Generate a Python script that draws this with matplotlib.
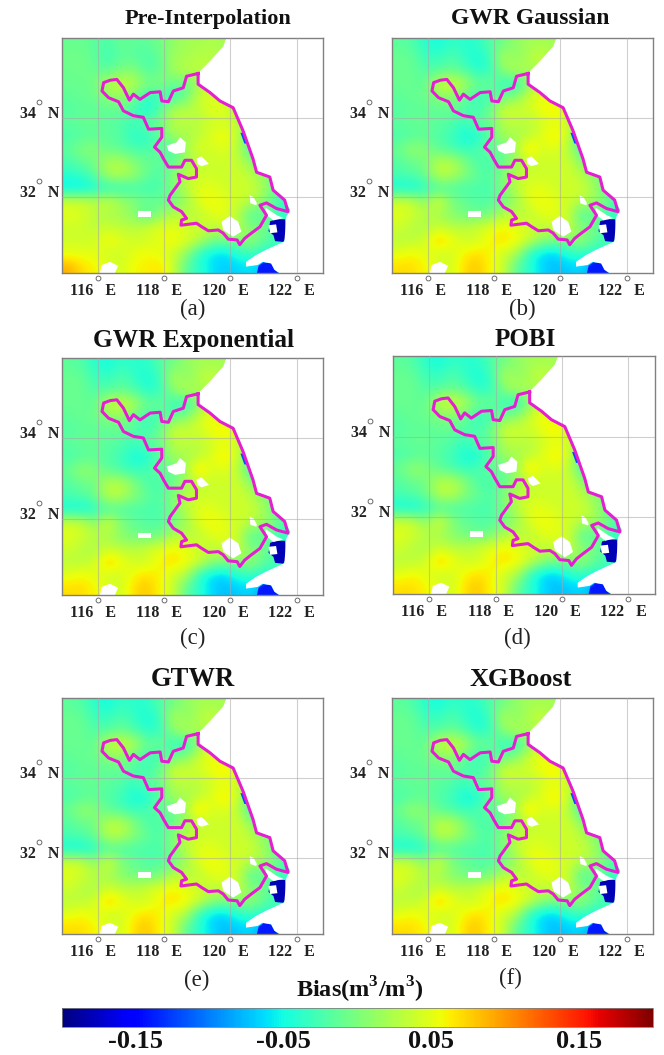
import matplotlib
matplotlib.use("Agg")
import matplotlib.pyplot as plt
from matplotlib.cm import ScalarMappable
from matplotlib.colors import Normalize
from matplotlib.transforms import ScaledTranslation
import numpy as np

plt.rcParams['font.family'] = ['Liberation Serif', 'DejaVu Serif']
plt.rcParams['font.weight'] = 'bold'
plt.rcParams['mathtext.fontset'] = 'custom'
plt.rcParams['mathtext.rm'] = 'Liberation Serif:bold'
plt.rcParams['mathtext.bf'] = 'Liberation Serif:bold'
plt.rcParams['mathtext.fallback'] = 'stix'

W, H = 664, 1055
lon_min, lon_max = 114.9, 122.8
lat_min, lat_max = 30.1, 36.0

lon_ticks = [116, 118, 120, 122]
lat_ticks = [32, 34]
cbar_ticks = [-0.15, -0.05, 0.05, 0.15]
cbar_labels = ['-0.15', '-0.05', '0.05', '0.15']

titles = ['Pre-Interpolation', 'GWR Gaussian', 'GWR Exponential', 'POBI', 'GTWR', 'XGBoost']
letters = ['(a)', '(b)', '(c)', '(d)', '(e)', '(f)']

# bias, coarse cells, north to south
bias_pre = [
    [-.010, -.010, -.015, -.025, -.010, -.015, -.015, -.005, .010, .020, .020, .025, .020, .010, .000, .000, .000, .000, .000, .000],
    [-.005, -.005, -.015, -.030, -.015, -.015, -.025, -.015, .020, .020, .030, .030, .020, .000, .000, .000, .000, .000, .000, .000],
    [-.010, -.005, -.010, -.015, .000, .005, -.020, -.015, .020, .030, .030, .025, .020, .000, .000, .000, .000, .000, .000, .000],
    [-.010, -.010, -.005, .030, .040, .030, .000, .005, -.010, -.015, .020, .030, .020, .000, .000, .000, .000, .000, .000, .000],
    [-.015, -.010, -.010, .010, .010, .000, -.040, -.030, -.035, -.010, .040, .050, .030, .015, .000, .000, .000, .000, .000, .000],
    [-.020, -.015, -.015, -.015, -.010, -.030, -.050, -.020, .030, .030, .030, .050, .050, .030, .000, .000, .000, .000, .000, .000],
    [-.015, -.010, -.010, -.015, -.020, -.030, -.010, -.010, .030, .030, .030, .040, .040, .035, -.010, .000, .000, .000, .000, .000],
    [-.025, -.020, -.015, -.015, -.020, -.040, -.040, -.015, .020, .020, .030, .050, .060, .035, -.030, -.050, .000, .000, .000, .000],
    [-.015, .005, .005, -.010, -.015, -.025, -.025, -.010, -.030, .020, .050, .040, .050, .030, -.030, -.040, .000, .000, .000, .000],
    [-.025, -.015, -.005, .025, .025, .005, -.010, -.015, -.015, .015, .030, .040, .040, .035, .010, -.020, .000, .000, .000, .000],
    [-.040, -.035, -.015, .020, .030, .015, -.010, -.025, .005, .030, .040, .040, .040, .040, .030, .010, -.010, .000, .000, .000],
    [-.060, -.060, -.050, -.040, -.040, -.030, -.030, -.025, .000, .030, .050, .050, .040, .040, .040, .020, -.020, -.030, .000, .000],
    [.040, .040, .030, .040, .020, .005, -.005, -.010, -.010, .015, .050, .060, .050, .040, .030, .005, -.020, -.050, -.060, .000],
    [.050, .045, .030, .020, .020, .005, -.025, .005, .030, .030, .030, .050, .050, .030, -.025, -.010, -.030, -.040, -.040, .000],
    [.040, .040, .030, .040, .030, .030, .040, .050, .050, .040, .040, .030, .040, .030, .000, .000, -.030, -.040, -.040, .000],
    [.040, .040, .040, .060, .050, .040, .040, .050, .060, .050, .030, .000, -.005, .000, .015, -.015, -.030, -.030, -.030, .000],
    [.050, .050, .050, .040, .040, .050, .060, .050, .040, .010, -.040, -.060, -.065, -.040, -.030, -.045, -.040, .000, .000, .000],
    [.090, .070, .060, .050, .040, .060, .060, .070, .040, -.015, -.040, -.060, -.070, -.065, -.060, -.080, -.100, .000, .000, .000],
]

bias_gwr = [
    [-.015, -.020, -.040, -.050, -.035, -.040, -.040, -.020, -.005, .010, .020, .020, .020, .010, .000, .000, .000, .000, .000, .000],
    [-.010, -.010, -.030, -.035, -.020, -.035, -.050, -.035, .030, .005, .025, .040, .020, .000, .000, .000, .000, .000, .000, .000],
    [-.010, -.010, -.020, -.020, -.010, -.020, -.040, -.035, .005, .030, .020, .020, .020, .000, .000, .000, .000, .000, .000, .000],
    [-.010, -.010, -.015, .040, .045, .030, -.010, -.005, -.035, -.045, .005, .040, .020, .000, .000, .000, .000, .000, .000, .000],
    [-.015, -.010, -.010, .005, .005, -.010, -.035, -.025, -.010, .005, .040, .060, .040, .030, .000, .000, .000, .000, .000, .000],
    [-.020, -.015, -.015, -.015, -.010, -.020, -.030, -.010, .045, .040, .040, .055, .070, .040, .000, .000, .000, .000, .000, .000],
    [-.015, -.010, -.010, -.015, -.020, -.035, -.010, -.015, .030, .030, .030, .040, .050, .040, .000, .000, .000, .000, .000, .000],
    [-.025, -.020, -.015, -.020, -.030, -.050, -.050, -.015, .020, .020, .030, .050, .070, .040, -.030, -.060, .000, .000, .000, .000],
    [-.010, .015, .005, -.015, -.025, -.035, -.025, -.010, -.015, .020, .080, .040, .050, .030, -.030, -.080, .000, .000, .000, .000],
    [-.020, -.010, -.005, .030, .030, .005, -.025, -.025, -.010, .015, .030, .040, .040, .040, .010, -.020, .000, .000, .000, .000],
    [-.025, -.020, -.010, .030, .030, .005, -.010, -.025, .005, .030, .040, .040, .040, .040, .030, .005, -.010, .000, .000, .000],
    [-.050, -.055, -.040, -.025, -.025, -.025, -.025, -.025, .000, .030, .050, .050, .040, .040, .040, .020, -.020, -.030, .000, .000],
    [.040, .040, .005, .050, .005, -.010, -.020, -.020, -.010, .015, .050, .060, .050, .040, .030, .015, .000, -.040, -.050, .000],
    [.050, .040, .030, .020, .005, -.005, -.010, -.005, .030, .030, .030, .050, .050, .040, -.025, -.010, -.030, -.040, -.040, .000],
    [.040, .030, .020, .040, .030, .030, .040, .050, .060, .050, .040, .030, .040, .040, .000, .000, -.030, -.040, -.040, .000],
    [.030, .030, .040, .080, .060, .040, .040, .060, .070, .060, .040, .010, .000, .000, .015, -.015, -.030, -.030, -.030, .000],
    [.050, .060, .050, .040, .040, .060, .070, .060, .040, .025, -.040, -.065, -.070, -.040, -.035, -.045, -.040, .000, .000, .000],
    [.070, .070, .060, .050, .040, .070, .080, .060, .040, -.015, -.040, -.065, -.075, -.070, -.065, -.090, -.120, .000, .000, .000],
]

# province outline
border_lon = [119.02, 118.67, 118.57, 118.27, 118.12, 117.92, 117.87, 117.57, 117.26, 117.06, 116.94, 116.76, 116.56,
              116.36, 116.16, 116.11, 116.31, 116.61, 116.76, 117.06, 117.36, 117.52, 117.92, 117.92, 117.70, 117.87,
              117.97, 118.12, 118.52, 118.62, 118.82, 118.97, 118.97, 118.72, 118.42, 118.47, 118.17, 118.12, 118.27, 118.52,
              118.67, 118.52, 118.50, 118.97, 119.13, 119.33, 119.63, 119.78, 119.93, 120.20, 120.28, 120.43, 120.63, 120.89,
              121.09, 120.89, 121.09, 121.39, 121.74, 121.64, 121.29, 121.19, 120.79, 120.68, 120.38, 120.08, 119.68, 119.38,
              119.02, 119.02]
border_lat = [35.11, 35.04, 34.75, 34.67, 34.40, 34.42, 34.65, 34.63, 34.46, 34.59, 34.44, 34.75, 34.96,
              34.94, 34.88, 34.67, 34.50, 34.40, 34.17, 34.05, 34.01, 33.71, 33.73, 33.51, 33.26, 33.13,
              32.97, 32.76, 32.76, 32.93, 32.93, 32.72, 32.51, 32.47, 32.58, 32.39, 32.05, 31.93, 31.76, 31.64,
              31.47, 31.43, 31.30, 31.35, 31.26, 31.16, 31.18, 31.10, 30.95, 30.93, 30.81, 30.97, 31.10, 31.26,
              31.55, 31.80, 31.86, 31.72, 31.64, 31.93, 32.18, 32.51, 32.63, 32.97, 33.67, 34.25, 34.42, 34.63,
              34.84, 35.11]

# sea, no retrievals
sea_lon = [119.88, 119.78, 119.38, 119.08, 119.02, 119.38, 119.68, 120.08, 120.38, 120.68, 120.79, 121.19, 121.29,
           121.64, 121.81, 121.69, 121.63, 121.07, 120.77, 120.47, 120.47, 120.82, 120.97, 121.23, 121.33, 121.48, 122.8, 122.8]
sea_lat = [36.0, 35.79, 35.42, 35.17, 34.84, 34.63, 34.42, 34.25, 33.67, 32.97, 32.63, 32.51, 32.18,
           31.93, 31.68, 31.51, 30.89, 30.68, 30.55, 30.38, 30.26, 30.30, 30.38, 30.34, 30.18, 30.10, 30.1, 36.0]

# lakes and other gaps
gaps_lon = [
    [118.07, 118.37, 118.47, 118.65, 118.62, 118.32, 118.12],
    [118.97, 119.12, 119.35, 119.12, 119.00],
    [119.73, 119.98, 120.23, 120.33, 120.08, 119.78],
    [117.21, 117.60, 117.60, 117.21],
    [120.58, 120.70, 120.80, 120.78, 120.60],
    [121.05, 121.40, 121.60, 121.30, 121.10],
    [116.10, 116.35, 116.60, 116.50, 116.05],
]
gaps_lat = [
    [33.30, 33.38, 33.51, 33.38, 33.13, 33.09, 33.17],
    [32.97, 33.03, 32.84, 32.78, 32.84],
    [31.39, 31.53, 31.39, 31.14, 31.01, 31.18],
    [31.65, 31.65, 31.51, 31.51],
    [32.05, 32.00, 31.85, 31.80, 31.85],
    [31.75, 31.55, 31.48, 31.42, 31.55],
    [30.30, 30.38, 30.28, 30.10, 30.10],
]

# strongly dry spots near the estuary, the south coast and the north coast
dry_value = [-0.18, -0.14, -0.12]
dry_lon = [
    [121.40, 121.65, 121.68, 121.60, 121.35, 121.30, 121.15, 121.20],
    [120.85, 121.00, 121.23, 121.33, 121.45, 120.80],
    [120.30, 120.40, 120.50, 120.42],
]
dry_lat = [
    [31.45, 31.45, 31.00, 30.88, 30.90, 31.05, 31.15, 31.40],
    [30.28, 30.37, 30.34, 30.18, 30.10, 30.10],
    [33.62, 33.62, 33.35, 33.35],
]
# small white hole inside the dark patch
hole_lon = [121.15, 121.38, 121.42, 121.20]
hole_lat = [31.30, 31.32, 31.12, 31.10]

panel_fields = [bias_pre, bias_gwr, bias_gwr, bias_gwr, bias_gwr, bias_gwr]

# left, top, right, bottom in px; title x,y,size; letter x,y
boxes = [(62, 38, 323, 273), (392, 38, 653, 273), (62, 358, 323, 595),
         (393, 356, 655, 594), (62, 698, 323, 934), (392, 698, 653, 934)]
title_pos = [(208, 19), (530, 19), (194, 340), (525, 340), (193, 680), (521, 680)]
title_size = [16, 17, 18.3, 18, 19.2, 19]
letter_pos = [(193, 309), (522, 309), (193, 638), (517, 638), (197, 980), (510, 978)]

fig = plt.figure(figsize=(W / 100, H / 100), dpi=100, facecolor='white')
norm = Normalize(-0.2, 0.2)
cmap = plt.get_cmap('jet')
offset_x = ScaledTranslation(-5 / 100, 0, fig.dpi_scale_trans)
offset_y = ScaledTranslation(0, 6 / 100, fig.dpi_scale_trans)
deg_x = ScaledTranslation(0, -5 / 100, fig.dpi_scale_trans)
deg_y = ScaledTranslation(-23 / 100, 16 / 100, fig.dpi_scale_trans)

for i in range(6):
    l, t, r, b = boxes[i]
    ax = fig.add_axes([l / W, 1 - b / H, (r - l) / W, (b - t) / H])
    ax.imshow(np.array(panel_fields[i]), cmap=cmap, norm=norm, interpolation='bicubic', aspect='auto',
              extent=[lon_min, lon_max, lat_min, lat_max], origin='upper', zorder=1)
    for v, dx, dy in zip(dry_value, dry_lon, dry_lat):
        ax.fill(dx, dy, color=cmap(norm(v)), lw=0, zorder=1.5)
    ax.fill(sea_lon, sea_lat, color='white', lw=0, zorder=2)
    for gx, gy in zip(gaps_lon, gaps_lat):
        ax.fill(gx, gy, color='white', lw=0, zorder=2)
    ax.fill(hole_lon, hole_lat, color='white', lw=0, zorder=2)
    ax.grid(True, color='#a8a8a8', lw=0.8, alpha=0.55, zorder=3)
    ax.set_axisbelow(False)
    ax.plot(border_lon, border_lat, color='#e61ed2', lw=2.2, solid_joinstyle='round', zorder=4)
    ax.set_xlim(lon_min, lon_max)
    ax.set_ylim(lat_min, lat_max)
    ax.set_xticks(lon_ticks)
    ax.set_xticklabels(['%d   E' % v for v in lon_ticks], fontsize=11.5, color='#222222')
    ax.set_yticks(lat_ticks)
    ax.set_yticklabels(['%d   N' % v for v in lat_ticks], fontsize=11.5, color='#222222')
    ax.tick_params(axis='x', length=0, pad=7)
    ax.tick_params(axis='y', length=0, pad=2)
    for lab in ax.get_xticklabels():
        lab.set_transform(lab.get_transform() + offset_x)
    for lab in ax.get_yticklabels():
        lab.set_transform(lab.get_transform() + offset_y)
    # degree rings sit apart from the tick text
    ax.plot(lon_ticks, [0] * len(lon_ticks), 'o', mfc='none', mec='#555555', ms=3.5, mew=0.6, clip_on=False,
            transform=ax.get_xaxis_transform() + deg_x, zorder=5)
    ax.plot([0] * len(lat_ticks), lat_ticks, 'o', mfc='none', mec='#555555', ms=3.5, mew=0.6, clip_on=False,
            transform=ax.get_yaxis_transform() + deg_y, zorder=5)
    ax.set_xlim(lon_min, lon_max)
    ax.set_ylim(lat_min, lat_max)
    for s in ax.spines.values():
        s.set_color('#808080')
        s.set_linewidth(1.0)
    fig.text(title_pos[i][0] / W, 1 - title_pos[i][1] / H, titles[i], fontsize=title_size[i], ha='center', va='center',
             color='#111111')
    fig.text(letter_pos[i][0] / W, 1 - letter_pos[i][1] / H, letters[i], fontsize=16.5, fontweight='normal',
             ha='center', va='center', color='#222222')

fig.text(360 / W, 1 - 990 / H, 'Bias(m$^{3}$/m$^{3}$)', fontsize=17.5, ha='center', va='center', color='#111111')

cax = fig.add_axes([62 / W, 1 - 1027 / H, 591 / W, 19 / H])
cb = fig.colorbar(ScalarMappable(norm=norm, cmap=cmap), cax=cax, orientation='horizontal', ticks=cbar_ticks)
cb.ax.set_xticklabels(cbar_labels, fontsize=19, color='#111111')
cb.ax.tick_params(length=0, pad=2)
cb.outline.set_edgecolor('#808080')
cb.outline.set_linewidth(0.6)

fig.savefig('out.png', dpi=100)
